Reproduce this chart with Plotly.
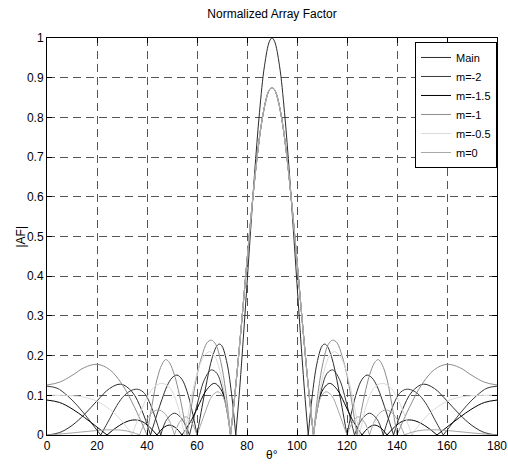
import plotly.graph_objects as go

N = None

# ---- Main (uniform array) ----
main_theta = [0, 5, 10, 15, 20, 25, 29.5, 34, 38, 41.4, N,
              41.4, 44, 46, 48, 50, 52, 54, 56, 58, 60, N,
              60, 62, 64, 66, 68, 69, 70, 72, 74, 75.5, N,
              75.5, 77, 79, 81, 83, 85, 87, 89, 90, 91, 93, 95, 97, 99, 101, 103, 104.5, N,
              104.5, 106, 108, 110, 111, 112, 114, 116, 118, 120, N,
              120, 122, 124, 126, 128, 130, 132, 134, 136, 138.6, N,
              138.6, 142, 146, 150.5, 155, 160, 165, 170, 175, 180]
main_af = [0, .006, .024, .052, .086, .117, .128, .109, .061, 0, N,
           0, .052, .090, .123, .144, .151, .140, .110, .062, 0, N,
           0, .070, .137, .193, .225, .229, .224, .181, .094, 0, N,
           0, .111, .287, .474, .656, .813, .930, .992, 1, .992, .930, .813, .656, .474, .287, .111, 0, N,
           0, .094, .181, .224, .229, .225, .193, .137, .070, 0, N,
           0, .062, .110, .140, .151, .144, .123, .090, .052, 0, N,
           0, .061, .109, .128, .117, .086, .052, .024, .006, 0]

# ---- shared main lobe of the m curves ----
m_lobe_theta = [73.4, 74, 75, 76, 77, 78, 80, 82, 84, 86, 88, 89, 90, 91, 92, 94, 96, 98, 100, 102, 103, 104, 105, 106, 106.6]
m_lobe_af = [0, .033, .093, .156, .224, .294, .438, .576, .698, .793, .854, .870, .875, .870, .854, .793, .698, .576, .438, .294, .224, .156, .093, .033, 0]

# ---- m = -2 ----
b_left_theta = [0, 4, 8, 12, 16, 19, 21.5, N, 21.5, 25, 28, 31, 34, 36.5, 39, 41.5, 43.5, 45.5, N,
                45.5, 48, 51, 54, 57, N, 57, 59, 61, 63, 65.7, 68, 70, 72, 73.4]
b_left_af = [.123, .118, .1, .075, .045, .02, 0, N, 0, .04, .075, .1, .113, .115, .105, .075, .04, 0, N,
             0, .04, .055, .04, 0, N, 0, .05, .1, .14, .164, .155, .12, .065, 0]
b_right_theta = [106.6, 108, 110, 112, 114.3, 117, 119, 121, 123, N, 123, 126, 129, 132, 134.5, N,
                 134.5, 136.5, 138.5, 141, 143.5, 146, 149, 152, 155, 158.5, N, 158.5, 161, 164, 168, 172, 176, 180]
b_right_af = [0, .065, .12, .155, .164, .14, .1, .05, 0, N, 0, .04, .055, .04, 0, N,
              0, .04, .075, .105, .115, .113, .1, .075, .04, 0, N, 0, .02, .045, .075, .1, .118, .123]

# ---- m = -1.5 ----
c_left_theta = [0, 5, 10, 15, 20, 24, N, 24, 28, 32, 35, 38, 41, 44, N, 44, 46.5, 49, 51.5, 54, N,
                54, 58, 61, 64, 67, 70, 72, 73.4]
c_left_af = [.088, .082, .066, .044, .02, 0, N, 0, .02, .034, .038, .034, .02, 0, N, 0, .018, .025, .018, 0, N,
             0, .04, .08, .115, .13, .11, .06, 0]
c_right_theta = [106.6, 108, 110, 113, 116, 119, 122, 126, N, 126, 128.5, 131, 133.5, 136, N,
                 136, 139, 142, 145, 148, 152, 156, N, 156, 160, 165, 170, 175, 180]
c_right_af = [0, .06, .11, .13, .115, .08, .04, 0, N, 0, .018, .025, .018, 0, N,
              0, .02, .034, .038, .034, .02, 0, N, 0, .02, .044, .066, .082, .088]

# ---- m = -1 ----
a_left_theta = [0, 5, 10, 15, 20, 25, 30, 35, 40, N, 40, 42, 44, 46, 47.5, 49, 51, 53, 56, N,
                56, 58, 60, 62, 64, 65.7, 67.5, 69.5, 71.5, 73.4]
a_left_af = [.126, .133, .150, .170, .178, .165, .128, .07, 0, N, 0, .075, .14, .178, .19, .182, .15, .1, 0, N,
             0, .08, .15, .2, .232, .239, .228, .185, .11, 0]
a_right_theta = [106.6, 108.5, 110.5, 112.5, 114.3, 116, 118, 120, 122, 124, N,
                 124, 127, 129, 131, 132.5, 134, 136, 138, 140, N, 140, 145, 150, 155, 160, 165, 170, 175, 180]
a_right_af = [0, .11, .185, .228, .239, .232, .2, .15, .08, 0, N,
              0, .1, .15, .182, .19, .178, .14, .075, 0, N, 0, .07, .128, .165, .178, .170, .150, .133, .126]

# ---- m = -0.5 ----
d_left_theta = [0, 5, 10, 15, 20, 25, 30, 34, N, 34, 37, 40, 43, 46, 49, 52, 55, N,
                55, 57, 59, 61, 63, 65, 67, 69, 71, 73.4]
d_left_af = [.1, .1, .099, .095, .085, .065, .035, 0, N, 0, .05, .095, .122, .13, .12, .08, 0, N,
             0, .07, .13, .175, .2, .21, .2, .165, .105, 0]
d_right_theta = [106.6, 109, 111, 113, 115, 117, 119, 121, 123, 125, N,
                 125, 128, 131, 134, 137, 140, 143, 146, N, 146, 150, 155, 160, 165, 170, 175, 180]
d_right_af = [0, .105, .165, .2, .21, .2, .175, .13, .07, 0, N,
              0, .08, .12, .13, .122, .095, .05, 0, N, 0, .035, .065, .085, .095, .099, .1, .1]

# ---- m = 0 ----
e_left_theta = [0, 8, 16, 24, 30, 34, 37, N, 37, 39.5, 42, 44.5, 47, 49, 51, N, 51, 53, 55.5, 58, 60, N,
                60, 62, 64, 66, 68.4, 70.5, 72, 73.4]
e_left_af = [0, .004, .009, .013, .012, .007, 0, N, 0, .035, .056, .063, .055, .035, 0, N, 0, .032, .046, .03, 0, N,
             0, .035, .07, .098, .109, .095, .06, 0]
e_right_theta = [106.6, 108, 109.5, 111.6, 114, 116, 118, 120, N, 120, 122, 124.5, 127, 129, N,
                 129, 131, 133, 135.5, 138, 140.5, 143, N, 143, 146, 150, 156, 164, 172, 180]
e_right_af = [0, .06, .095, .109, .098, .07, .035, 0, N, 0, .03, .046, .032, 0, N,
              0, .035, .055, .063, .056, .035, 0, N, 0, .007, .012, .013, .009, .004, 0]

x_ticks = [0, 20, 40, 60, 80, 100, 120, 140, 160, 180]
y_ticks = [0, 0.1, 0.2, 0.3, 0.4, 0.5, 0.6, 0.7, 0.8, 0.9, 1]
y_ticklabels = ["0", "0.1", "0.2", "0.3", "0.4", "0.5", "0.6", "0.7", "0.8", "0.9", "1"]

series = [
    ("Main", main_theta, main_af, "#2b2b2b"),
    ("m=-2", b_left_theta + [N] + m_lobe_theta + [N] + b_right_theta,
     b_left_af + [N] + m_lobe_af + [N] + b_right_af, "#3a3a3a"),
    ("m=-1.5", c_left_theta + [N] + m_lobe_theta + [N] + c_right_theta,
     c_left_af + [N] + m_lobe_af + [N] + c_right_af, "#000000"),
    ("m=-1", a_left_theta + [N] + m_lobe_theta + [N] + a_right_theta,
     a_left_af + [N] + m_lobe_af + [N] + a_right_af, "#8c8c8c"),
    ("m=-0.5", d_left_theta + [N] + m_lobe_theta + [N] + d_right_theta,
     d_left_af + [N] + m_lobe_af + [N] + d_right_af, "#dadada"),
    ("m=0", e_left_theta + [N] + m_lobe_theta + [N] + e_right_theta,
     e_left_af + [N] + m_lobe_af + [N] + e_right_af, "#a6a6a6"),
]

fig = go.Figure()
for name, xs, ys, col in series:
    fig.add_trace(go.Scatter(x=xs, y=ys, name=name, mode="lines",
                             line=dict(color=col, width=1, shape="spline", smoothing=1),
                             connectgaps=False))

FONT = "Liberation Sans, Arial, sans-serif"
axis_common = dict(showline=True, linecolor="black", linewidth=1, mirror="ticks",
                   ticks="inside", ticklen=5, tickcolor="black", automargin=False,
                   showgrid=True, gridcolor="#555555", gridwidth=1, griddash="8px,5px",
                   zeroline=False, tickfont=dict(family=FONT, size=12, color="black"))

fig.update_layout(
    width=508, height=464,
    margin=dict(l=47, r=11, t=38, b=29),
    paper_bgcolor="white", plot_bgcolor="white",
    font=dict(family=FONT, size=12, color="black"),
    title=dict(text="Normalized Array Factor", x=0.5, xref="paper", xanchor="center",
               y=1 - 14 / 464, yref="container", yanchor="middle",
               font=dict(family=FONT, size=12, color="black")),
    xaxis=dict(range=[0, 180], tickvals=x_ticks, **axis_common),
    yaxis=dict(range=[0, 1], tickvals=y_ticks, ticktext=y_ticklabels, **axis_common),
    legend=dict(x=1, xanchor="right", y=0.99, yanchor="top", bgcolor="white",
                bordercolor="black", borderwidth=1, font=dict(family=FONT, size=11),
                itemwidth=30, tracegroupgap=0),
    showlegend=True,
    annotations=[
        dict(text="|AF|", textangle=-90, xref="paper", yref="paper",
             x=(20 - 47) / 450, y=0.5, xanchor="center", yanchor="middle",
             showarrow=False, font=dict(family=FONT, size=12)),
        dict(text="θ°", xref="paper", yref="paper", x=0.5, y=(435 - 464) / 397,
             xanchor="center", yanchor="bottom", showarrow=False, font=dict(family=FONT, size=12)),
    ],
)

fig.write_html("out.html", config={"displayModeBar": False},
               post_script="document.body.style.margin='0px';document.body.style.overflow='hidden';")
